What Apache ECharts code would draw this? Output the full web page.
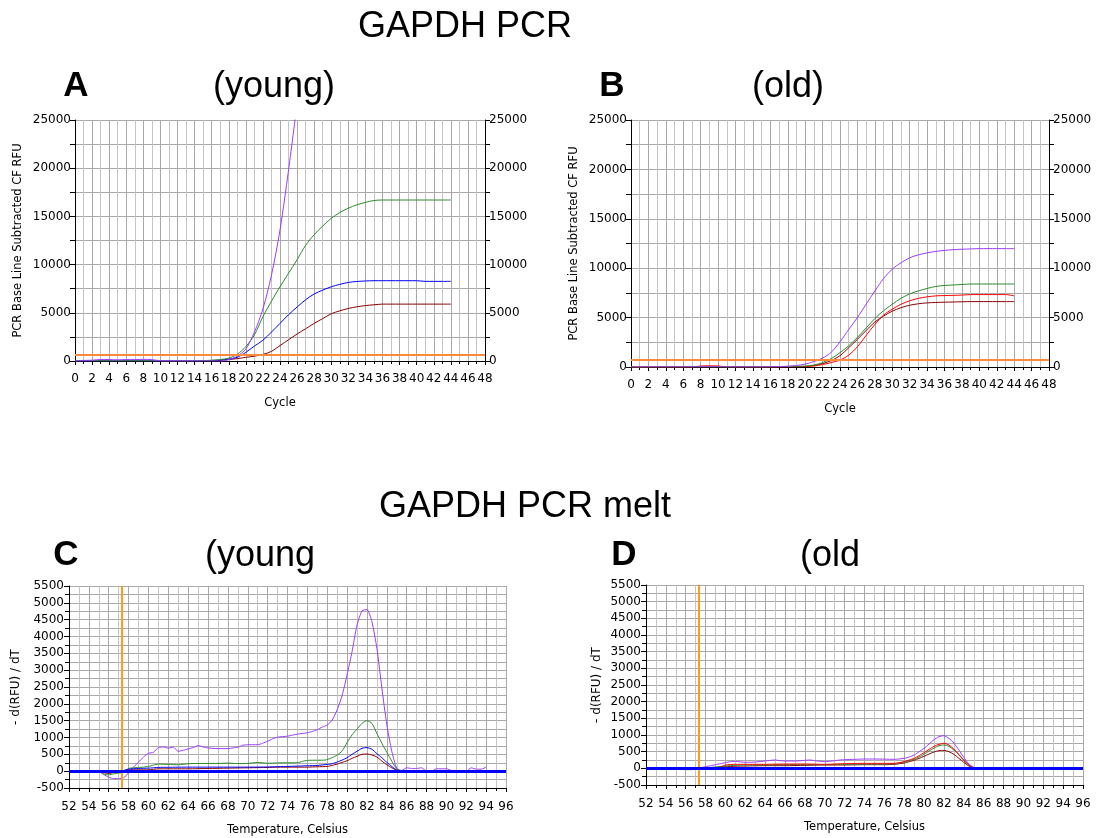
<!DOCTYPE html>
<html>
<head>
<meta charset="utf-8">
<script src="https://cdn.jsdelivr.net/npm/echarts@6/dist/echarts.min.js"></script>
<style>
html,body{margin:0;padding:0;background:#fff;}
#chart{width:1107px;height:838px;}
</style>
</head>
<body>
<div id="chart"></div>
<script>
// ---------- DATA ----------
const cycles = [0,1,2,3,4,5,6,7,8,9,10,11,12,13,14,15,16,17,18,19,20,21,22,23,24,25,26,27,28,29,30,31,32,33,34,35,36,37,38,39,40,41,42,43,44];

// Panel A (young) amplification, RFU
const youngPurple = [0,60,80,160,150,120,150,150,170,140,30,20,20,20,20,10,0,-30,150,500,1250,3000,5400,8900,13600,19800,26700];
const youngGreen  = [0,30,40,30,20,20,20,20,20,10,10,10,10,10,20,40,80,150,300,700,1500,2700,4600,6200,7700,9100,10500,12000,13100,14000,14800,15400,15850,16200,16450,16650,16700,16700,16700,16700,16700,16700,16700,16700,16700];
const youngBlue   = [0,0,10,10,0,0,10,10,10,0,0,0,0,0,0,20,50,100,200,380,900,1550,2150,3000,3900,4800,5600,6350,6950,7350,7700,7950,8150,8250,8300,8330,8330,8330,8330,8330,8330,8260,8260,8260,8260];
const youngDarkRed= [0,20,20,20,10,10,10,10,0,0,0,0,0,0,0,20,40,60,150,250,380,500,680,1000,1600,2200,2800,3350,3900,4400,4900,5200,5450,5620,5750,5830,5900,5900,5900,5900,5900,5900,5900,5900,5900];

// Panel B (old) amplification, RFU
const oldPurple  = [0,0,20,20,20,20,20,30,30,30,20,10,10,10,10,10,20,40,80,150,300,550,900,1500,2550,3800,5000,6350,7700,8950,9900,10550,11050,11350,11550,11700,11800,11880,11920,11950,11980,11980,11980,11980,11980];
const oldGreen   = [0,-20,0,10,10,10,10,10,10,10,10,10,10,10,10,10,20,30,50,70,100,200,450,850,1450,2150,3000,3950,4900,5700,6350,6950,7400,7700,7950,8150,8250,8300,8350,8400,8400,8400,8400,8400,8400];
const oldRed     = [0,0,0,0,0,0,0,0,100,120,100,20,10,10,10,10,10,10,20,30,50,100,250,450,700,1200,2050,3200,4300,5250,5850,6350,6700,6950,7100,7200,7230,7250,7280,7330,7330,7330,7330,7330,7200];
const oldDarkRed = [0,0,0,10,10,10,10,10,10,10,10,10,0,0,0,0,0,10,20,30,50,150,350,650,1150,1950,2800,3700,4550,5150,5650,6000,6250,6400,6490,6530,6560,6580,6600,6620,6620,6620,6620,6620,6620];

const thresholdA = 700;
const thresholdB = 700;

// Melt curves: [temperature C, -d(RFU)/dT]
const meltYoungPurple = [[55,0],[55.5,-100],[56,-180],[56.5,-220],[57,-220],[57.5,-200],[58,-50],[58.5,120],[59,270],[59.5,420],[60,530],[60.5,560],[61,700],[61.5,720],[62,680],[62.5,715],[63,590],[63.5,620],[64,660],[64.5,700],[65,760],[65.5,720],[66,690],[67,670],[68,670],[68.5,690],[69,710],[69.5,770],[70,785],[71,785],[71.5,830],[72,890],[72.5,960],[73,1010],[74,1040],[75,1100],[76,1140],[76.5,1180],[77,1230],[77.5,1310],[78,1370],[78.5,1520],[79,1820],[79.5,2250],[80,2860],[80.5,3550],[81,4340],[81.5,4760],[82,4800],[82.5,4440],[83,3650],[83.5,2470],[84,1380],[84.5,590],[85,90],[85.5,20],[86,100],[86.5,80],[87,80],[87.5,100],[88,0],[88.5,0],[89,70],[90,70],[90.5,20],[91,0],[92,0],[92.5,100],[93,60],[93.5,60],[94,120]];
const meltYoungGreen = [[55,0],[55.5,-80],[56,-110],[56.5,-80],[57,-60],[57.5,-30],[58,80],[58.5,100],[59,110],[59.5,120],[60,140],[60.5,180],[61,210],[62,200],[63,190],[64,220],[65,230],[66,230],[67,230],[68,240],[69,225],[70,230],[71,260],[72,235],[73,245],[74,250],[75,250],[75.5,290],[76,320],[77,325],[77.8,330],[78.5,400],[79,480],[79.5,600],[80,850],[80.5,1080],[81,1250],[81.5,1420],[82,1500],[82.5,1420],[83,1120],[83.5,830],[84,560],[84.5,300],[85,60],[85.5,0]];
const meltYoungBlue = [[55,-20],[55.5,-40],[56,-30],[56.5,-20],[57,-10],[57.5,20],[58,60],[59,80],[60,90],[61,110],[62,115],[64,120],[66,120],[68,120],[70,120],[72,125],[74,140],[76,160],[77,170],[78,200],[78.5,220],[79,270],[79.5,330],[80,400],[80.5,500],[81,590],[81.5,680],[82,700],[82.5,650],[83,520],[83.5,400],[84,260],[84.5,140],[85,30],[85.5,0]];
const meltYoungDarkRed = [[55,0],[55.5,-40],[56,-70],[56.5,-40],[57,-10],[57.5,20],[58,40],[60,40],[61,70],[64,70],[66,80],[68,90],[70,100],[72,110],[73,120],[76,120],[77,130],[78,140],[78.5,170],[79,210],[79.5,260],[80,310],[80.5,380],[81,440],[81.5,500],[82,510],[82.5,480],[83,420],[83.5,300],[84,190],[84.5,100],[85,30],[85.5,0]];

const meltOldPurple = [[55,0],[55.5,-20],[56,-40],[56.5,-40],[57,-30],[57.5,20],[58,50],[58.5,80],[59,110],[59.5,140],[60,170],[60.5,200],[61,210],[62,180],[63,190],[64,220],[65,250],[65.5,230],[66,220],[67,220],[68,240],[68.5,250],[69,230],[70,200],[71,230],[71.5,250],[72,260],[73,270],[74,280],[75,280],[76,275],[77,270],[78,300],[78.5,340],[79,400],[79.5,500],[80,600],[80.5,730],[81,860],[81.5,950],[82,980],[82.5,900],[83,760],[83.5,550],[84,330],[84.5,130],[85,30],[85.5,0]];
const meltOldRed = [[57,-20],[57.5,-20],[58,-20],[58.5,-20],[59,-10],[59.5,40],[60,100],[61,120],[62,120],[64,120],[66,130],[68,130],[70,120],[72,140],[74,150],[76,150],[77,150],[78,200],[78.5,250],[79,300],[79.5,380],[80,470],[80.5,570],[81,660],[81.5,720],[82,750],[82.5,700],[83,580],[83.5,420],[84,250],[84.5,100],[85,20],[85.5,0]];
const meltOldGreen = [[57,0],[58,20],[59,40],[60,70],[61,90],[62,100],[64,100],[66,110],[68,110],[70,110],[72,120],[74,130],[76,130],[77,140],[78,190],[78.5,230],[79,270],[79.5,340],[80,420],[80.5,520],[81,610],[81.5,680],[82,700],[82.5,660],[83,550],[83.5,400],[84,240],[84.5,100],[85,20],[85.5,-20],[86,-30],[86.5,-30],[87,-30]];
const meltOldDarkRed = [[58,0],[59,30],[60,50],[61,60],[62,70],[64,80],[66,80],[68,90],[70,100],[72,100],[74,110],[76,110],[77,120],[78,160],[78.5,200],[79,240],[79.5,300],[80,360],[80.5,430],[81,490],[81.5,530],[82,540],[82.5,500],[83,420],[83.5,300],[84,180],[84.5,70],[85,10],[85.5,0]];

const meltThresholdTemp = 57.3;
const meltBaseline = 0;

// ---------- STYLE ----------
const COL = {purple:'#9a3cff', green:'#2a8a2a', blue:'#0000ff', darkRed:'#8b0000', red:'#ff0000', orange:'#ff8a3c', meltOrange:'#ff9a1a'};
const AX_FONT = 'DejaVu Sans';
const TITLE_FONT = 'Liberation Sans, Arial, sans-serif';
const plain = v => String(v);

function pcrX(gi){
  return {
    gridIndex: gi, type:'value', min:0, max:48, interval:2,
    axisLine:{show:true, onZero:false, lineStyle:{color:'#000', width:1}},
    axisTick:{show:true, length:4, lineStyle:{color:'#000'}},
    minorTick:{show:true, splitNumber:2, length:3, lineStyle:{color:'#000'}},
    splitLine:{show:true, lineStyle:{color:'#a8a8a8', width:1}},
    minorSplitLine:{show:true, lineStyle:{color:'#c4c4c4', width:1}},
    axisLabel:{fontSize:12, color:'#000', fontFamily:AX_FONT, margin:12, formatter:plain},
    name:'Cycle', nameLocation:'middle', nameGap:36,
    nameTextStyle:{fontSize:11.5, color:'#000', fontFamily:AX_FONT}
  };
}
function pcrY(gi, pos, named){
  return {
    gridIndex: gi, type:'value', min:0, max:25000, interval:5000, position:pos,
    axisLine:{show:true, onZero:false, lineStyle:{color:'#000', width:1}},
    axisTick:{show:true, length:5, lineStyle:{color:'#000'}},
    minorTick:{show:true, splitNumber:2, length:5, lineStyle:{color:'#000'}},
    splitLine:{show:named, lineStyle:{color:'#a8a8a8', width:1}},
    minorSplitLine:{show:named, lineStyle:{color:'#a8a8a8', width:1}},
    axisLabel:{fontSize:12, color:'#000', fontFamily:AX_FONT, margin:4, formatter:plain},
    name: named ? 'PCR Base Line Subtracted CF RFU' : '',
    nameLocation:'middle', nameGap:51,
    nameTextStyle:{fontSize:11.5, color:'#000', fontFamily:AX_FONT}
  };
}
function meltX(gi){
  return {
    gridIndex: gi, type:'value', min:52, max:96, interval:2,
    axisLine:{show:true, onZero:false, lineStyle:{color:'#000', width:1}},
    axisTick:{show:true, length:4, lineStyle:{color:'#000'}},
    minorTick:{show:true, splitNumber:2, length:3, lineStyle:{color:'#000'}},
    splitLine:{show:true, lineStyle:{color:'#a8a8a8', width:1}},
    minorSplitLine:{show:true, lineStyle:{color:'#c4c4c4', width:1}},
    axisLabel:{fontSize:12, color:'#000', fontFamily:AX_FONT, margin:13, formatter:plain},
    name:'Temperature, Celsius', nameLocation:'middle', nameGap:36,
    nameTextStyle:{fontSize:11.5, color:'#000', fontFamily:AX_FONT}
  };
}
function meltY(gi, gap){
  return {
    gridIndex: gi, type:'value', min:-500, max:5500, interval:500,
    axisLine:{show:true, onZero:false, lineStyle:{color:'#000', width:1}},
    axisTick:{show:true, length:5, lineStyle:{color:'#000'}},
    minorTick:{show:true, splitNumber:2, length:4, lineStyle:{color:'#000'}},
    splitLine:{show:true, lineStyle:{color:'#a8a8a8', width:1}},
    minorSplitLine:{show:true, lineStyle:{color:'#a8a8a8', width:1}},
    axisLabel:{fontSize:12, color:'#000', fontFamily:AX_FONT, margin:5, formatter:plain},
    name:'- d(RFU) / dT', nameLocation:'middle', nameGap:gap,
    nameTextStyle:{fontSize:12, color:'#000', fontFamily:AX_FONT}
  };
}
function pairs(xs, ys){ return ys.map((v,i)=>[xs[i], v]); }
function line(xi, yi, data, color, extra){
  return Object.assign({
    type:'line', xAxisIndex:xi, yAxisIndex:yi, data:data,
    showSymbol:false, symbol:'none', smooth:0.3, clip:true, animation:false,
    lineStyle:{color:color, width:1}, itemStyle:{color:color}, z:2
  }, extra||{});
}

const option = {
  animation:false,
  backgroundColor:'#fff',
  grid:[
    {left:75, top:120, width:410, height:241},
    {left:631, top:120, width:418, height:247},
    {left:69, top:586, width:437, height:202},
    {left:646, top:585, width:437, height:200}
  ],
  xAxis:[pcrX(0), pcrX(1), meltX(2), meltX(3)],
  yAxis:[
    pcrY(0,'left',true), pcrY(0,'right',false),
    pcrY(1,'left',true), pcrY(1,'right',false),
    meltY(2,47), meltY(3,43)
  ],
  series:[
    line(0,0,pairs(cycles,youngDarkRed),COL.darkRed,{
      markLine:{silent:true, symbol:'none', label:{show:false}, animation:false,
        lineStyle:{color:COL.orange, width:2, type:'solid'}, data:[{yAxis:thresholdA}]}
    }),
    line(0,0,pairs(cycles,youngBlue),COL.blue),
    line(0,0,pairs(cycles,youngGreen),COL.green),
    line(0,0,pairs(cycles,youngPurple),COL.purple),

    line(1,2,pairs(cycles,oldDarkRed),COL.darkRed,{
      markLine:{silent:true, symbol:'none', label:{show:false}, animation:false,
        lineStyle:{color:COL.orange, width:2, type:'solid'}, data:[{yAxis:thresholdB}]}
    }),
    line(1,2,pairs(cycles,oldRed),COL.red),
    line(1,2,pairs(cycles,oldGreen),COL.green),
    line(1,2,pairs(cycles,oldPurple),COL.purple),

    line(2,4,meltYoungPurple,COL.purple,{smooth:0.2}),
    line(2,4,meltYoungGreen,COL.green,{smooth:0.2}),
    line(2,4,meltYoungDarkRed,COL.darkRed,{smooth:0.2}),
    line(2,4,meltYoungBlue,COL.blue,{smooth:0.2, z:3,
      markLine:{silent:true, symbol:'none', label:{show:false}, animation:false,
        data:[
          {xAxis:meltThresholdTemp, lineStyle:{color:COL.meltOrange, width:2, type:'solid'}},
          {yAxis:meltBaseline, lineStyle:{color:COL.blue, width:3, type:'solid'}}
        ]}
    }),

    line(3,5,meltOldDarkRed,COL.darkRed,{smooth:0.2}),
    line(3,5,meltOldGreen,COL.green,{smooth:0.2}),
    line(3,5,meltOldRed,COL.red,{smooth:0.2}),
    line(3,5,meltOldPurple,COL.purple,{smooth:0.2, z:3,
      markLine:{silent:true, symbol:'none', label:{show:false}, animation:false,
        data:[
          {xAxis:meltThresholdTemp, lineStyle:{color:COL.meltOrange, width:2, type:'solid'}},
          {yAxis:meltBaseline, lineStyle:{color:COL.blue, width:3, type:'solid'}}
        ]}
    })
  ],
  graphic:[
    {type:'text', x:465, y:27, style:{text:'GAPDH PCR', font:'36px '+TITLE_FONT, fill:'#000', textAlign:'center', textVerticalAlign:'middle'}},
    {type:'text', x:76, y:86, style:{text:'A', font:'bold 35px '+TITLE_FONT, fill:'#000', textAlign:'center', textVerticalAlign:'middle'}},
    {type:'text', x:274, y:87, style:{text:'(young)', font:'36px '+TITLE_FONT, fill:'#000', textAlign:'center', textVerticalAlign:'middle'}},
    {type:'text', x:612, y:86, style:{text:'B', font:'bold 35px '+TITLE_FONT, fill:'#000', textAlign:'center', textVerticalAlign:'middle'}},
    {type:'text', x:788, y:87, style:{text:'(old)', font:'36px '+TITLE_FONT, fill:'#000', textAlign:'center', textVerticalAlign:'middle'}},
    {type:'text', x:525, y:507, style:{text:'GAPDH PCR melt', font:'36px '+TITLE_FONT, fill:'#000', textAlign:'center', textVerticalAlign:'middle'}},
    {type:'text', x:66, y:555, style:{text:'C', font:'bold 35px '+TITLE_FONT, fill:'#000', textAlign:'center', textVerticalAlign:'middle'}},
    {type:'text', x:260, y:556, style:{text:'(young', font:'36px '+TITLE_FONT, fill:'#000', textAlign:'center', textVerticalAlign:'middle'}},
    {type:'text', x:624, y:555, style:{text:'D', font:'bold 35px '+TITLE_FONT, fill:'#000', textAlign:'center', textVerticalAlign:'middle'}},
    {type:'text', x:830, y:556, style:{text:'(old', font:'36px '+TITLE_FONT, fill:'#000', textAlign:'center', textVerticalAlign:'middle'}}
  ]
};

const chart = echarts.init(document.getElementById('chart'), null, {renderer:'canvas', width:1107, height:838});
chart.setOption(option);
</script>
</body>
</html>
